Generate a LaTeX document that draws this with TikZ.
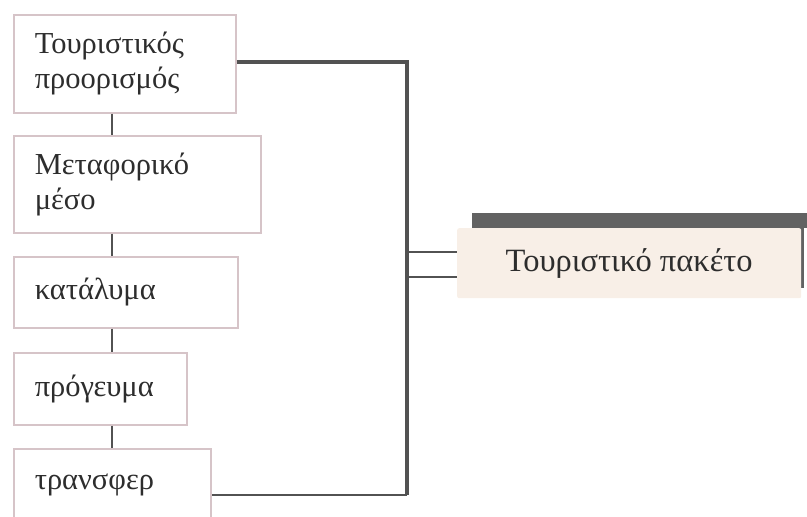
\documentclass[tikz,border=0pt]{standalone}
\usepackage{fontspec}
\setmainfont{Liberation Serif}
\definecolor{boxline}{RGB}{214,196,200}
\definecolor{busline}{RGB}{82,82,82}
\definecolor{paketfill}{RGB}{248,239,231}
\definecolor{paketshadow}{RGB}{98,98,98}
\definecolor{txt}{RGB}{45,45,45}
\tikzset{
  item/.style={draw=boxline, line width=1.5pt, anchor=north west, align=left,
    inner xsep=21pt, inner ysep=0pt, text=txt, font=\fontsize{30.5}{35}\selectfont},
  link/.style={draw=busline, line width=1.3pt},
  bus/.style={draw=busline, line width=4.5pt},
  feed/.style={draw=busline, line width=2pt}
}
\begin{document}
\begin{tikzpicture}[x=1pt,y=-1pt]
        \useasboundingbox (0,0) rectangle (807,517);

        \node[item, text width=180, minimum height=98] (dest) at (13,14) {Τουριστικός\\προορισμός};
        \node[item, text width=205, minimum height=97] (trans) at (13,135) {Μεταφορικό\\μέσο};
        \node[item, text width=182, minimum height=71] (stay) at (13,256) {κατάλυμα};
        \node[item, text width=131, minimum height=72] (meal) at (13,352) {πρόγευμα};
        \node[item, text width=155, minimum height=72] (xfer) at (13,448) {τρανσφερ};

        % package box with its dark edge
        \fill[paketshadow] (472,213) rectangle (807,228);
        \fill[paketshadow] (472,213) rectangle (804,288);
        \node[fill=paketfill, rounded corners=2pt, minimum width=344, minimum height=70,
              anchor=north west, text=txt, font=\fontsize{32.5}{38}\selectfont] (paket) at (457,228) {Τουριστικό πακέτο};

        \coordinate (vx) at (112,0);
        \coordinate (bustop) at (407,62);
        \coordinate (busbot) at (407,495);
        \coordinate (in1) at (407,252);
        \coordinate (in2) at (407,277);

        \path[link] (dest.south -| vx) -- (trans.north -| vx);
        \path[link] (trans.south -| vx) -- (stay.north -| vx);
        \path[link] (stay.south -| vx) -- (meal.north -| vx);
        \path[link] (meal.south -| vx) -- (xfer.north -| vx);

        \path[bus] (dest.east |- bustop) -- (bustop) -- (busbot);
        \path[feed] (busbot) -- (busbot -| xfer.east);
        \path[feed] (in1) -- (in1 -| paket.west);
        \path[feed] (in2) -- (in2 -| paket.west);
    \end{tikzpicture}
\end{document}
